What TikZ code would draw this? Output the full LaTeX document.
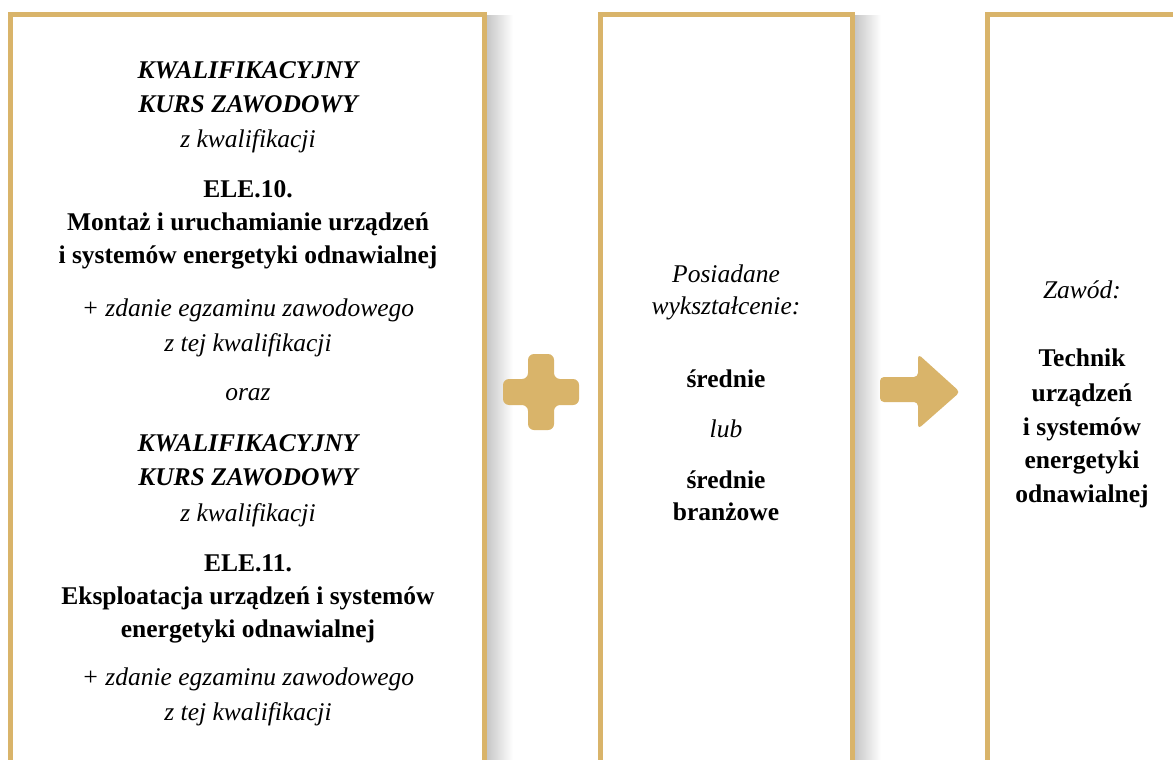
\documentclass[tikz,border=0pt]{standalone}
\usepackage{fontspec}
\setmainfont{Liberation Serif}
\definecolor{gold}{HTML}{D9B46A}
\tikzset{
  frame/.style={draw=gold, line width=5pt},
  t/.style={inner sep=0pt, anchor=base, font=\fontsize{25.5}{30}\selectfont},
  ti/.style={t, font=\fontsize{25.5}{30}\selectfont\itshape},
  tb/.style={t, font=\fontsize{25.5}{30}\selectfont\bfseries},
  tbi/.style={t, font=\fontsize{25.5}{30}\selectfont\bfseries\itshape},
  sym/.style={fill=gold, draw=none, rounded corners=6pt}
}
\begin{document}
\begin{tikzpicture}[x=1pt,y=-1pt]
\useasboundingbox (0,0) rectangle (1173,760);
\fill[white] (0,0) rectangle (1173,760);
% shadows
\shade[left color=black!22, right color=white] (487,16) rectangle (513,760);
\shade[left color=black!22, right color=white] (855,16) rectangle (881,760);
% frames
\begin{scope}
\clip (0,0) rectangle (1173,760);
\draw[frame] (10.5,770) -- (10.5,14.5) -- (484.5,14.5) -- (484.5,770);
\draw[frame] (600.5,770) -- (600.5,14.5) -- (852.5,14.5) -- (852.5,770);
\draw[frame] (987.5,770) -- (987.5,14.5) -- (1185,14.5);
\end{scope}
% plus
\fill[sym] (528,354) -- (554,354) -- (554,379) -- (579,379) -- (579,405) -- (554,405) -- (554,430) -- (528,430) -- (528,405) -- (503,405) -- (503,379) -- (528,379) -- cycle;
% arrow
\fill[sym, rounded corners=4pt] (880,377) -- (918,377) -- (918,354) -- (960,392) -- (918,429) -- (918,402) -- (880,402) -- cycle;
% left column
\node[tbi] (a1) at (248,79) {KWALIFIKACYJNY};
\node[tbi] (a2) at (248,113) {KURS ZAWODOWY};
\node[ti] (a3) at (248,147) {z kwalifikacji};
\node[tb] (a4) at (248,197) {ELE.10.};
\node[tb] (a5) at (248,230) {Montaż i uruchamianie urządzeń};
\node[tb] (a6) at (248,263) {i systemów energetyki odnawialnej};
\node[ti] (a7) at (248,316) {+ zdanie egzaminu zawodowego};
\node[ti] (a8) at (248,351) {z tej kwalifikacji};
\node[ti] (a9) at (248,400) {oraz};
\node[tbi] (a10) at (248,451) {KWALIFIKACYJNY};
\node[tbi] (a11) at (248,485) {KURS ZAWODOWY};
\node[ti] (a12) at (248,521) {z kwalifikacji};
\node[tb] (a13) at (248,571) {ELE.11.};
\node[tb] (a14) at (248,604) {Eksploatacja urządzeń i systemów};
\node[tb] (a15) at (248,637) {energetyki odnawialnej};
\node[ti] (a16) at (248,685) {+ zdanie egzaminu zawodowego};
\node[ti] (a17) at (248,720) {z tej kwalifikacji};
% middle column
\node[ti] (b1) at (726,282) {Posiadane};
\node[ti] (b2) at (726,314) {wykształcenie:};
\node[tb] (b3) at (726,387) {średnie};
\node[ti] (b4) at (726,437) {lub};
\node[tb] (b5) at (726,488) {średnie};
\node[tb] (b6) at (726,520) {branżowe};
% right column
\node[ti] (c1) at (1082,298) {Zawód:};
\node[tb] (c2) at (1082,366) {Technik};
\node[tb] (c3) at (1082,401) {urządzeń};
\node[tb] (c4) at (1082,435) {i systemów};
\node[tb] (c5) at (1082,468) {energetyki};
\node[tb] (c6) at (1082,502) {odnawialnej};
\end{tikzpicture}
\end{document}
